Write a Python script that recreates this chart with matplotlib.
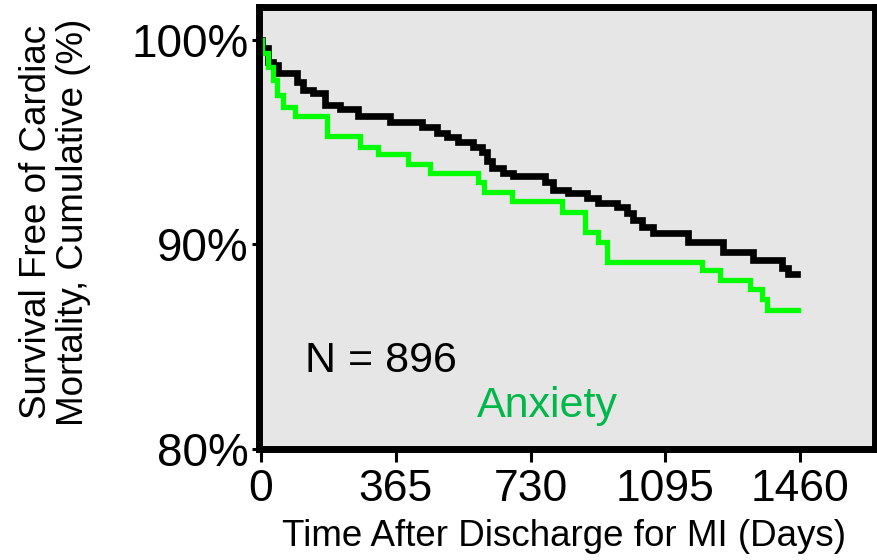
import matplotlib.pyplot as plt

plt.rcParams['font.family'] = ['Liberation Sans', 'DejaVu Sans']

# Kaplan-Meier steps: day of event and survival (%) from that day on
days_all = [0, 3, 19, 32, 46, 98, 114, 141, 173, 214, 262, 350, 437, 477, 504,
            534, 574, 599, 612, 626, 655, 683, 769, 791, 832, 883, 913, 965,
            992, 1008, 1032, 1062, 1156, 1251, 1333, 1411, 1427, 1452]
surv_all = [100.0, 99.6, 98.9, 98.8, 98.4, 97.95, 97.55, 97.4, 96.8, 96.6,
            96.3, 96.0, 95.75, 95.45, 95.25, 95.0, 94.75, 94.5, 94.1, 93.75,
            93.5, 93.35, 93.05, 92.65, 92.5, 92.25, 92.0, 91.8, 91.55, 91.2,
            90.85, 90.55, 90.1, 89.6, 89.25, 88.85, 88.55, 88.55]

days_anx = [0, 3, 19, 33, 43, 60, 92, 179, 268, 317, 398, 458, 588, 604, 680,
            816, 878, 913, 937, 1194, 1243, 1324, 1357, 1370, 1455]
surv_anx = [100.0, 99.35, 98.7, 98.05, 97.3, 96.7, 96.3, 95.3, 94.75, 94.4,
            93.95, 93.5, 93.05, 92.55, 92.1, 91.6, 90.6, 90.1, 89.15, 88.75,
            88.25, 87.8, 87.3, 86.8, 86.8]

xticks = [0, 365, 730, 1095, 1460]
yticks = [80, 90, 100]
ylabels = ['80%', '90%', '100%']

fig = plt.figure(figsize=(8.77, 5.6), dpi=100)
W, H = 877, 560
ax = fig.add_axes([258.5 / W, 1 - 448.5 / H, (875 - 258.5) / W, (448.5 - 6.5) / H])
ax.set_facecolor('#e6e6e6')

ax.step(days_all, surv_all, where='post', color='black', lw=4.8,
        solid_joinstyle='miter')
ax.step(days_anx, surv_anx, where='post', color='#00ff00', lw=3.8,
        solid_joinstyle='miter')

ax.set_xlim(-6.8, 1663)
ax.set_ylim(80, 101.64)

ax.set_xticks(xticks)
ax.set_xticklabels([str(t) for t in xticks])
ax.set_yticks(yticks)
ax.set_yticklabels(ylabels)
ax.tick_params(axis='x', length=9, width=2.2, pad=6, labelsize=32, direction='out')
ax.tick_params(axis='y', length=5, width=2.2, pad=2, labelsize=33, direction='out')

for s in ax.spines.values():
    s.set_linewidth(5)
    s.set_color('black')

ax.text(119, 84.3, 'N = 896', fontsize=31, color='black', va='center', ha='left')
ax.text(585, 82.1, 'Anxiety', fontsize=31, color='#00b84a', va='center', ha='left')

fig.text(564 / W, 1 - 537 / H, 'Time After Discharge for MI (Days)',
         fontsize=26.5, ha='center', va='center')
fig.text(55 / W, 1 - 222 / H, 'Survival Free of Cardiac\nMortality, Cumulative (%)',
         fontsize=26.5, ha='center', va='center', rotation=90, linespacing=1.05)

fig.savefig('out.png', dpi=100)
